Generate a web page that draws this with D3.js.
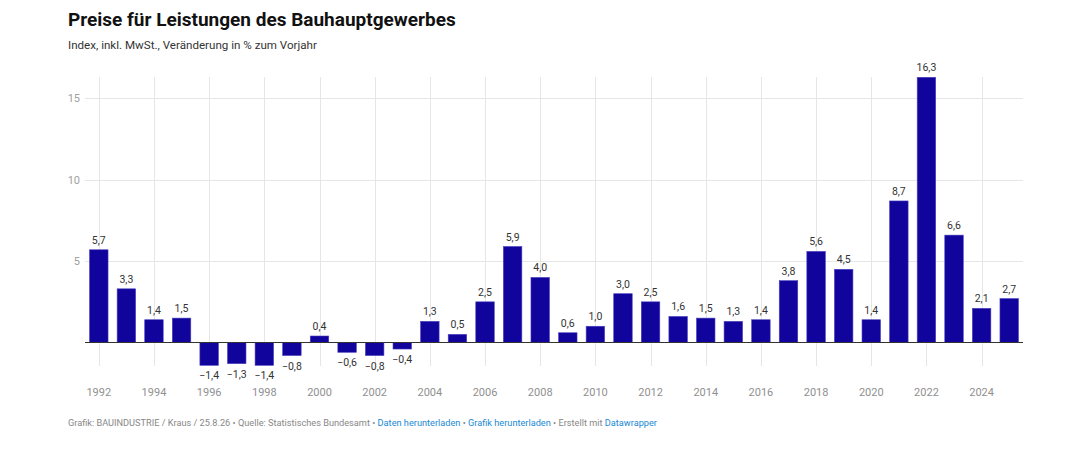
<!DOCTYPE html>
<html>
<head>
<meta charset="utf-8">
<script src="https://cdn.jsdelivr.net/npm/d3@7"></script>
<style>
  body { margin: 0; background: #fff; font-family: Roboto, sans-serif; }
  svg text { font-family: Roboto, sans-serif; }
</style>
</head>
<body>
<script>
var width = 1091,
    height = 451;

// Jahre und Veränderung in % zum Vorjahr
var years = d3.range(1992, 2026)
var values = [5.7, 3.3, 1.4, 1.5, -1.4, -1.3, -1.4, -0.8, 0.4, -0.6, -0.8, -0.4, 1.3, 0.5,
              2.5, 5.9, 4.0, 0.6, 1.0, 3.0, 2.5, 1.6, 1.5, 1.3, 1.4, 3.8, 5.6, 4.5, 1.4,
              8.7, 16.3, 6.6, 2.1, 2.7]
var yTicks = [5, 10, 15]
var xTicks = years.filter(function(d) { return d % 2 === 0 })

var data = years.map(function(y, i) { return {year: y, value: values[i]} })

var svg = d3.select('body')
            .append('svg')
            .attr('width', width)
            .attr('height', height)

var x = d3.scaleBand()
    .domain(years)
    .range([85, 1023])
    .paddingInner(0.33)
    .paddingOuter(0.165)

var y = d3.scaleLinear()
    .domain([-1.4, 16.3])
    .range([365.3, 77.3])

// Titel
svg.append('text')
    .attr('x', 68).attr('y', 26)
    .attr('font-size', 19).attr('font-weight', 700).attr('fill', '#111')
    .text('Preise für Leistungen des Bauhauptgewerbes')
svg.append('text')
    .attr('x', 68).attr('y', 49)
    .attr('font-size', 11.6).attr('fill', '#333')
    .text('Index, inkl. MwSt., Veränderung in % zum Vorjahr')

// Gitter
var grid = svg.append('g')
grid.selectAll('.vg')
    .data(xTicks)
    .enter().append('line')
    .attr('x1', function(d) { return Math.round(x(d) + x.bandwidth() / 2) + 0.5 })
    .attr('x2', function(d) { return Math.round(x(d) + x.bandwidth() / 2) + 0.5 })
    .attr('y1', 77).attr('y2', 366)
    .attr('stroke', '#e6e6e6')
grid.selectAll('.hg')
    .data(yTicks)
    .enter().append('line')
    .attr('x1', 85).attr('x2', 1023)
    .attr('y1', function(d) { return Math.round(y(d)) + 0.5 })
    .attr('y2', function(d) { return Math.round(y(d)) + 0.5 })
    .attr('stroke', '#e6e6e6')

var yAxis = svg.append('g')
    .attr('transform', 'translate(80,0)')
    .call(d3.axisLeft(y).tickValues(yTicks).tickSize(0).tickPadding(0))
yAxis.select('.domain').remove()
yAxis.selectAll('text')
    .attr('font-size', 11).attr('fill', '#a0a0a0')
    .attr('font-family', 'Roboto, sans-serif')

var xAxis = svg.append('g')
    .attr('transform', 'translate(0,388)')
    .call(d3.axisBottom(x).tickValues(xTicks).tickSize(0).tickPadding(0))
xAxis.select('.domain').remove()
xAxis.selectAll('text')
    .attr('font-size', 11).attr('fill', '#909090')
    .attr('font-family', 'Roboto, sans-serif')

// Balken
svg.selectAll('.bar')
    .data(data)
    .enter().append('rect')
    .attr('x', function(d) { return x(d.year) })
    .attr('width', x.bandwidth())
    .attr('y', function(d) { return y(Math.max(0, d.value)) })
    .attr('height', function(d) { return Math.abs(y(d.value) - y(0)) })
    .attr('fill', '#10049c')
    .attr('stroke', '#4a3fc0')
    .attr('stroke-width', 0.6)

// Nulllinie
svg.append('line')
    .attr('x1', 85).attr('x2', 1023)
    .attr('y1', y(0)).attr('y2', y(0))
    .attr('stroke', '#333').attr('stroke-width', 1.2)

// Werte
var fmt = function(v) { return v.toFixed(1).replace('.', ',').replace('-', '\u2212') }
svg.selectAll('.lbl')
    .data(data)
    .enter().append('text')
    .attr('x', function(d) { return x(d.year) + x.bandwidth() / 2 })
    .attr('y', function(d) { return d.value >= 0 ? y(d.value) - 6 : y(d.value) + 14 })
    .attr('text-anchor', 'middle')
    .attr('font-size', 10.5).attr('fill', '#333')
    .text(function(d) { return fmt(d.value) })

// Fußzeile
var foot = svg.append('text')
    .attr('x', 68).attr('y', 426)
    .attr('font-size', 9.2).attr('fill', '#888')
foot.append('tspan').text('Grafik: BAUINDUSTRIE / Kraus / 25.8.26 • Quelle: Statistisches Bundesamt • ')
foot.append('tspan').attr('fill', '#1a8ad4').text('Daten herunterladen')
foot.append('tspan').text(' • ')
foot.append('tspan').attr('fill', '#1a8ad4').text('Grafik herunterladen')
foot.append('tspan').text(' • Erstellt mit ')
foot.append('tspan').attr('fill', '#1a8ad4').text('Datawrapper')
</script>
</body>
</html>
